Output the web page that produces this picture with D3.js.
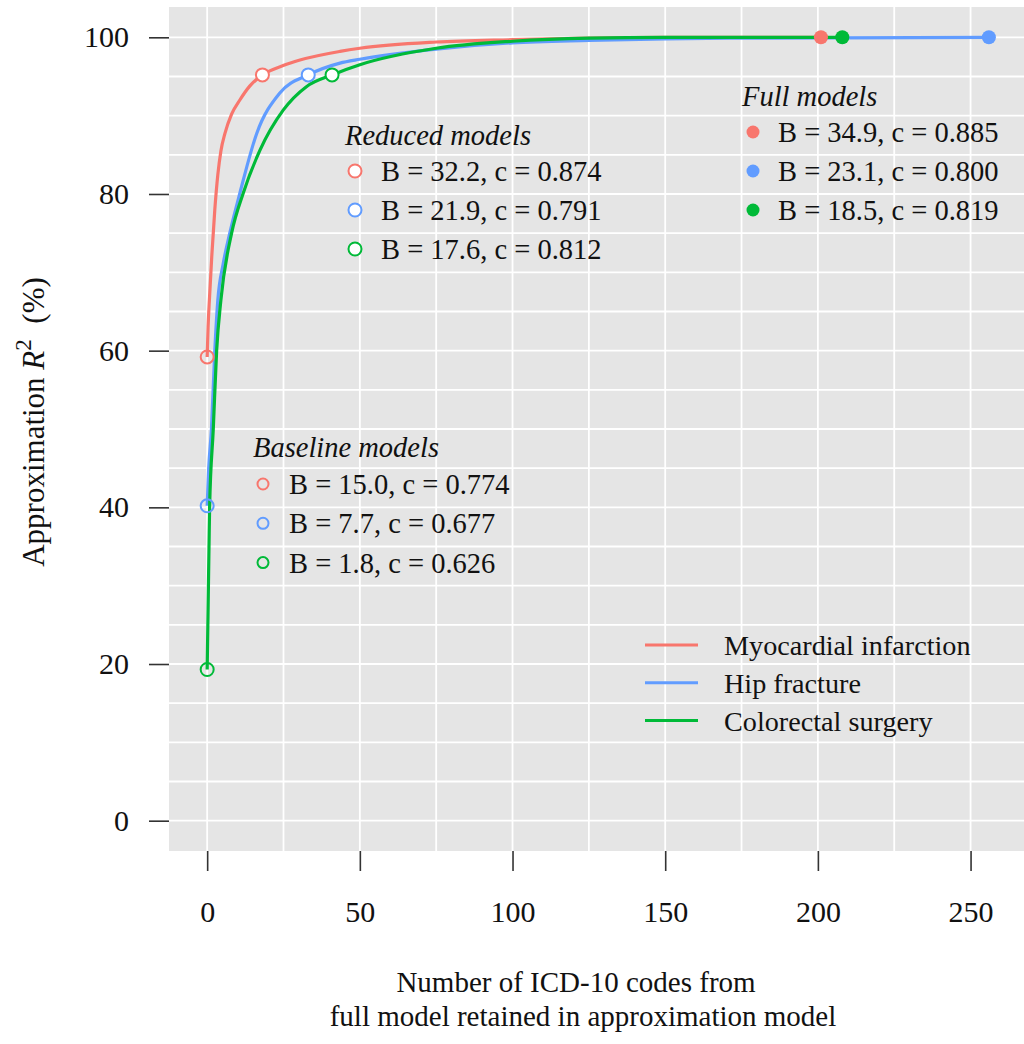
<!DOCTYPE html>
<html>
<head>
<meta charset="utf-8">
<script src="https://cdn.jsdelivr.net/npm/d3@7"></script>
<style>
  body { margin: 0; background: #fff; }
  text { font-family: "Liberation Serif", "Times New Roman", serif; fill: #111; }
</style>
</head>
<body>
<svg id="chart" width="1024" height="1044"></svg>
<script>
// series: number of ICD-10 codes retained vs approximation R^2 (%)
const seriesNames = ["Myocardial infarction", "Hip fracture", "Colorectal surgery"];
const seriesColors = ["#F8766D", "#619CFF", "#00BA38"];

const miX = [0, 0.3, 0.8, 1.5, 2.5, 3.5, 4.5, 5.8, 8.0, 10.7, 14.0, 18.1, 24.9, 30.4, 43.5, 50, 75, 100, 125, 150, 201];
const miY = [59.2, 63, 67, 72, 78, 82.5, 85.5, 87.7, 90.2, 92.0, 93.8, 95.2, 96.4, 97.1, 98.2, 98.6, 99.4, 99.7, 99.9, 100, 100];

const hipX = [0, 0.5, 1.4, 2.5, 3.5, 5.2, 7.4, 10.7, 16.2, 23.8, 33.1, 43.5, 50, 75, 100, 125, 150, 175, 256];
const hipY = [40.2, 45, 50, 60, 66.5, 71, 75, 80.1, 87.7, 92.9, 95.2, 96.7, 97.2, 98.5, 99.3, 99.6, 99.8, 99.9, 100];

const crX = [0, 0.3, 0.6, 0.8, 2.0, 3.1, 4.5, 8.0, 11.8, 17.3, 24.9, 32.5, 40.9, 50, 75, 100, 125, 150, 208];
const crY = [19.3, 27, 35, 40, 50, 60, 66.5, 75, 80.1, 85.6, 90.7, 93.7, 95.2, 96.5, 98.6, 99.5, 99.9, 100, 100];

// highlighted models (x = codes, y = R^2)
const baselineX = [0, 0, 0];
const baselineY = [59.2, 40.2, 19.3];
const reducedX = [18.1, 33.1, 40.9];
const reducedY = [95.2, 95.2, 95.2];
const fullX = [201, 256, 208];
const fullY = [100, 100, 100];

const baselineLabels = ["B = 15.0, c = 0.774", "B = 7.7, c = 0.677", "B = 1.8, c = 0.626"];
const reducedLabels = ["B = 32.2, c = 0.874", "B = 21.9, c = 0.791", "B = 17.6, c = 0.812"];
const fullLabels = ["B = 34.9, c = 0.885", "B = 23.1, c = 0.800", "B = 18.5, c = 0.819"];

const xTicks = [0, 50, 100, 150, 200, 250];
const xMinor = [25, 75, 125, 175, 225];
const yTicks = [0, 20, 40, 60, 80, 100];
const yGrid = d3.range(0, 101, 5);

const svg = d3.select("#chart");
const panel = { left: 169, right: 1024, top: 7, bottom: 851 };

const x = d3.scaleLinear().domain([-12.5, 267.5]).range([panel.left, panel.right]);
const y = d3.scaleLinear().domain([-3.87, 103.87]).range([panel.bottom, panel.top]);

svg.append("defs").append("clipPath").attr("id", "clip")
  .append("rect")
  .attr("x", panel.left).attr("y", panel.top)
  .attr("width", panel.right - panel.left).attr("height", panel.bottom - panel.top);

// panel background
svg.append("rect")
  .attr("x", panel.left).attr("y", panel.top)
  .attr("width", panel.right - panel.left).attr("height", panel.bottom - panel.top)
  .style("fill", "#E5E5E5");

const grid = svg.append("g").attr("clip-path", "url(#clip)");
grid.selectAll("line.h").data(yGrid).join("line")
  .attr("class", "h")
  .attr("x1", panel.left).attr("x2", panel.right)
  .attr("y1", d => y(d)).attr("y2", d => y(d))
  .style("stroke", "#fff").style("stroke-width", 1.8);
grid.selectAll("line.v").data(xTicks.concat(xMinor)).join("line")
  .attr("class", "v")
  .attr("y1", panel.top).attr("y2", panel.bottom)
  .attr("x1", d => x(d)).attr("x2", d => x(d))
  .style("stroke", "#fff").style("stroke-width", 1.8);

// axes
const xAxis = d3.axisBottom(x).tickValues(xTicks).tickSize(20).tickPadding(30);
const yAxis = d3.axisLeft(y).tickValues(yTicks).tickSize(20).tickPadding(20);

const xAxisG = svg.append("g").attr("transform", `translate(0,${panel.bottom})`).call(xAxis);
const yAxisG = svg.append("g").attr("transform", `translate(${panel.left},0)`).call(yAxis);
[xAxisG, yAxisG].forEach(g => {
  g.select(".domain").remove();
  g.selectAll(".tick line").style("stroke", "#333").style("stroke-width", 1.6);
  g.selectAll(".tick text")
    .style("font-family", "'Liberation Serif', serif")
    .style("font-size", "30px")
    .style("fill", "#111");
});

// curves
const curves = [
  { x: miX, y: miY },
  { x: hipX, y: hipY },
  { x: crX, y: crY }
];
const line = d3.line()
  .x(d => x(d[0]))
  .y(d => y(d[1]))
  .curve(d3.curveMonotoneX);

const lines = svg.append("g").attr("clip-path", "url(#clip)");
curves.forEach((c, i) => {
  lines.append("path")
    .attr("d", line(c.x.map((v, j) => [v, c.y[j]])))
    .style("fill", "none")
    .style("stroke", seriesColors[i])
    .style("stroke-width", 3.2);
});

// model points
const pts = svg.append("g");
seriesColors.forEach((col, i) => {
  pts.append("circle")
    .attr("cx", x(baselineX[i])).attr("cy", y(baselineY[i])).attr("r", 6.5)
    .style("fill", "none").style("stroke", col).style("stroke-width", 2);
  pts.append("circle")
    .attr("cx", x(reducedX[i])).attr("cy", y(reducedY[i])).attr("r", 6.5)
    .style("fill", "#fff").style("stroke", col).style("stroke-width", 2);
  pts.append("circle")
    .attr("cx", x(fullX[i])).attr("cy", y(fullY[i])).attr("r", 7)
    .style("fill", col);
});

// annotation legends
function modelLegend(title, labels, pos, keyStyle) {
  const g = svg.append("g");
  g.append("text")
    .attr("x", pos.tx).attr("y", pos.ty)
    .style("font-size", "28.5px").style("font-style", "italic")
    .text(title);
  labels.forEach((lab, i) => {
    const cy = pos.ky + i * pos.step;
    const key = g.append("circle").attr("cx", pos.kx).attr("cy", cy).attr("r", keyStyle.r);
    if (keyStyle.solid) {
      key.style("fill", seriesColors[i]);
    } else {
      key.style("fill", keyStyle.fill).style("stroke", seriesColors[i]).style("stroke-width", 2);
    }
    g.append("text")
      .attr("x", pos.lx).attr("y", cy + 10)
      .style("font-size", "28.5px")
      .text(lab);
  });
}

modelLegend("Full models", fullLabels,
  { tx: 742, ty: 106, kx: 753, ky: 132, step: 39, lx: 778 },
  { r: 6.5, solid: true });
modelLegend("Reduced models", reducedLabels,
  { tx: 345, ty: 145, kx: 355, ky: 171, step: 39, lx: 381 },
  { r: 6.5, fill: "#fff" });
modelLegend("Baseline models", baselineLabels,
  { tx: 253, ty: 457, kx: 263, ky: 484, step: 39.3, lx: 289 },
  { r: 5.5, fill: "none" });

// colour legend
const leg = svg.append("g");
seriesNames.forEach((name, i) => {
  const cy = 645 + i * 37.8;
  leg.append("line")
    .attr("x1", 645).attr("x2", 698).attr("y1", cy).attr("y2", cy)
    .style("stroke", seriesColors[i]).style("stroke-width", 3);
  leg.append("text")
    .attr("x", 724).attr("y", cy + 10)
    .style("font-size", "28.2px")
    .text(name);
});

// axis titles
svg.append("text")
  .attr("x", 576).attr("y", 992)
  .attr("text-anchor", "middle")
  .style("font-size", "29px")
  .text("Number of ICD-10 codes from");
svg.append("text")
  .attr("x", 583).attr("y", 1026)
  .attr("text-anchor", "middle")
  .style("font-size", "29px")
  .text("full model retained in approximation model");

const yLab = svg.append("text")
  .attr("transform", "translate(44,422) rotate(-90)")
  .attr("text-anchor", "middle")
  .style("font-size", "31px");
yLab.append("tspan").text("Approximation ");
yLab.append("tspan").style("font-style", "italic").text("R");
yLab.append("tspan").attr("dy", -13).style("font-size", "23px").text("2");
yLab.append("tspan").attr("dy", 13).text("\u2002(%)");
</script>
</body>
</html>
